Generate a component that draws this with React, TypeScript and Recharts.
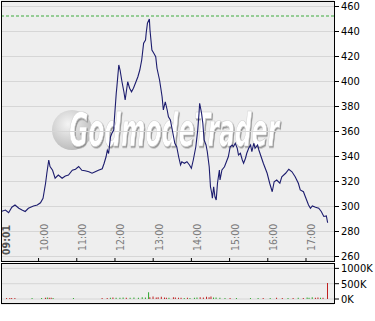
import React from "react";
import {
  LineChart,
  Line,
  XAxis,
  YAxis,
  CartesianGrid,
  ReferenceLine,
  BarChart,
  Bar,
  Cell,
} from "recharts";

// minutes after 09:00
const minutes = [
  1, 8, 13, 18, 23, 29, 34, 39, 44, 52, 58, 63, 67, 71, 73, 76, 78, 82, 86, 91,
  97, 102, 107, 113, 118, 123, 128, 133, 139, 144, 149, 154, 160, 163, 166, 168, 170, 173, 175, 178,
  179, 182, 183, 186, 188, 191, 194, 196, 200, 203, 206, 209, 213, 216, 219, 222, 225, 228, 229, 231,
  234, 235, 238, 241, 244, 246, 250, 252, 254, 256, 259, 262, 264, 267, 271, 274, 277, 280, 283, 285,
  289, 293, 297, 300, 303, 307, 310, 312, 313, 316, 318, 320, 323, 325, 328, 330, 332, 333, 335, 337,
  339, 341, 344, 345, 348, 352, 355, 358, 361, 364, 366, 369, 372, 374, 377, 380, 382, 385, 387, 390,
  393, 395, 398, 400, 404, 406, 413, 419, 423, 427, 430, 434, 439, 442, 448, 453, 458, 463, 468, 471,
  476, 479, 484, 487, 490, 495, 500, 504, 508, 512, 514,
];

const prices = [
  296, 297.2, 295, 299.4, 301.2, 298.6, 297.2, 296, 298.6, 300.4,
  301.2, 303, 306.5, 318.6, 326.6, 337.2, 332, 329, 322.6, 325.2,
  322.6, 324.4, 325.2, 329, 329.8, 332, 329, 328.6, 327.8, 326.6,
  327.8, 329, 330.2, 334.6, 339.8, 345, 342.4, 355.8, 358.4, 361.2,
  369.2, 390.6, 395.8, 413.2, 409.2, 399.8, 391.8, 385.2, 399.8, 394.6,
  391.8, 394.6, 399.8, 403.8, 409.2, 417.2, 430.6, 433.2, 438.6, 446.6,
  450, 441.2, 425.2, 422.6, 419.8, 410.6, 401.2, 394.6, 387.8, 377.2,
  383.8, 377.2, 371.8, 369.2, 358.6, 350.6, 347.8, 339.8, 333.2, 335.8,
  334.6, 335.8, 333.2, 330.6, 337.2, 347.8, 361.2, 374.6, 382.6, 374.6,
  366.6, 353.2, 349.2, 343.8, 331.8, 315.8, 310.6, 306.6, 315.8, 307.8,
  305.2, 318.6, 329.2, 321.2, 329.2, 331.8, 335.8, 339.8, 347.8, 349.2,
  347.8, 350.6, 346.6, 341.2, 342.6, 337.2, 334.6, 338.6, 342.6, 346.6,
  349.2, 343.8, 350.6, 346.6, 349.2, 345.2, 334.6, 326.6, 318.6, 311.8,
  319.8, 321.2, 318.6, 323.8, 326.6, 329.8, 327.8, 323.8, 318.6, 313.2,
  311.8, 307.8, 301.2, 298.6, 300.4, 299.4, 298.6, 296, 292, 292.4,
  287,
];

const xTickMinutes = [1, 60, 120, 180, 240, 300, 360, 420, 480];
const xTickLabels = ["09:01", "10:00", "11:00", "12:00", "13:00", "14:00", "15:00", "16:00", "17:00"];
const yTicks = [260, 280, 300, 320, 340, 360, 380, 400, 420, 440, 460];
const refLevel = 452.4;

const volMinutes = [
  10, 15, 18, 23, 50, 65, 71, 74, 77, 80, 83, 115, 160, 168, 173, 177, 182, 188, 193, 198,
  204, 210, 217, 223, 228, 233, 235, 240, 245, 248, 253, 258, 261, 265, 272, 275, 280, 284, 289, 294,
  298, 305, 309, 314, 319, 324, 328, 331, 335, 339, 345, 353, 361, 371, 393, 405, 413, 424, 434, 443,
  452, 460, 468, 476, 482, 485, 490, 495, 499, 503, 507, 514,
];
const volValues = [
  30000, 30000, 30000, 30000, 30000, 30000, 40000, 50000, 40000, 40000, 30000, 30000, 30000, 30000, 40000, 50000, 40000, 40000, 50000, 40000,
  40000, 50000, 40000, 60000, 50000, 220000, 60000, 80000, 50000, 60000, 70000, 50000, 40000, 40000, 60000, 50000, 40000, 40000, 30000, 40000,
  30000, 40000, 50000, 60000, 50000, 70000, 60000, 80000, 50000, 50000, 40000, 30000, 30000, 30000, 30000, 30000, 30000, 30000, 40000, 30000,
  30000, 30000, 40000, 30000, 50000, 40000, 60000, 40000, 50000, 40000, 40000, 520000,
];
const volUp = [
  0, 0, 0, 0, 1, 1, 0, 1, 0, 0, 1, 1, 0, 0, 1, 0, 1, 1, 1, 0,
  1, 1, 1, 1, 1, 1, 0, 0, 0, 0, 0, 0, 0, 1, 0, 0, 0, 0, 1, 0,
  1, 1, 1, 0, 0, 0, 0, 0, 1, 1, 1, 1, 0, 1, 1, 1, 0, 1, 0, 0,
  1, 0, 1, 0, 1, 1, 1, 0, 0, 1, 0, 0,
];
const volTicks = [0, 500000, 1000000];
const volTickLabels = ["0K", "500K", "1000K"];

const priceData = minutes.map((m, i) => ({ m, p: prices[i] }));
const volData = volMinutes.map((m, i) => ({ m, v: volValues[i], up: volUp[i] }));

const FONT = "'Liberation Sans Narrow', 'DejaVu Sans Condensed', 'Liberation Sans', sans-serif";

const XTick = (props: any) => {
  const { x, payload } = props;
  const idx = xTickMinutes.indexOf(payload.value);
  const label = xTickLabels[idx];
  if (idx === 0) {
    return (
      <text
        transform={`translate(${x + 9},255) rotate(-90)`}
        fontSize={10.5}
        fontWeight="bold"
        fill="#555"
        fontFamily={FONT}
        textAnchor="start"
      >
        {label}
      </text>
    );
  }
  return (
    <g>
      <line x1={x} x2={x} y1={258} y2={261} stroke="#000" strokeWidth={1} />
      <text
        transform={`translate(${x + 9.5},251) rotate(-90)`}
        fontSize={10.5}
        fill="#7a7a7a"
        fontFamily={FONT}
        textAnchor="start"
      >
        {label}
      </text>
    </g>
  );
};

const VolTick = (props: any) => {
  const { x, y, payload } = props;
  const idx = volTicks.indexOf(payload.value);
  return (
    <text x={x} y={y} dy={4} fontSize={11} fill="#000" fontFamily={FONT} textAnchor="start">
      {volTickLabels[idx]}
    </text>
  );
};

export default function App() {
  return (
    <div style={{ position: "absolute", left: 0, top: 0, width: 375, height: 321, background: "#fff", overflow: "hidden" }}>
      {/* plot background */}
      <div style={{ position: "absolute", left: 1, top: 1, width: 333, height: 260, background: "#eeeeee" }} />
      {/* watermark */}
      <svg width={335} height={262} style={{ position: "absolute", left: 0, top: 0 }}>
        <defs>
          <radialGradient id="sph" cx="40%" cy="35%" r="65%">
            <stop offset="0%" stopColor="#f4f4f4" />
            <stop offset="100%" stopColor="#bdbdbd" />
          </radialGradient>
          <filter id="wmshadow" x="-5%" y="-20%" width="115%" height="150%">
            <feDropShadow dx="1.5" dy="1.5" stdDeviation="0.6" floodColor="#8c8c8c" floodOpacity="0.9" />
          </filter>
        </defs>
        <circle cx={72} cy={130} r={20} fill="url(#sph)" />
        <g transform="translate(69,146) scale(0.7,1)">
          <text
            x={0}
            y={0}
            fontSize={46}
            fontWeight="bold"
            fontStyle="italic"
            fontFamily={FONT}
            textLength={300}
            lengthAdjust="spacingAndGlyphs"
            fill="#ffffff"
            stroke="#cfcfcf"
            strokeWidth={0.7}
            filter="url(#wmshadow)"
          >
            GodmodeTrader
          </text>
        </g>
      </svg>
      <div style={{ position: "absolute", left: 0, top: 0 }}>
        <LineChart width={375} height={262} data={priceData} margin={{ top: 1, right: 0, bottom: 0, left: 1 }}>
          <CartesianGrid horizontal vertical={false} stroke="#d6d6d6" fill="none" />
          <XAxis
            dataKey="m"
            type="number"
            domain={[1, 524]}
            ticks={xTickMinutes}
            interval={0}
            height={1}
            axisLine={false}
            tickLine={false}
            tick={<XTick />}
            allowDataOverflow
          />
          <YAxis
            orientation="right"
            width={41}
            domain={[256.4, 464.4]}
            ticks={yTicks}
            interval={0}
            axisLine={false}
            tickLine={{ stroke: "#000" }}
            tickSize={5}
            tickMargin={2}
            tick={{ fontSize: 11, fill: "#000", fontFamily: FONT }}
            allowDataOverflow
          />
          <ReferenceLine y={refLevel} stroke="#3daa3d" strokeDasharray="3 2" />
          <Line
            type="linear"
            dataKey="p"
            stroke="#1c1c6e"
            strokeWidth={1.1}
            dot={false}
            isAnimationActive={false}
          />
        </LineChart>
      </div>
      <div style={{ position: "absolute", left: 0, top: 263 }}>
        <BarChart width={375} height={47} data={volData} margin={{ top: 0, right: 0, bottom: 6, left: 1 }}>
          <CartesianGrid horizontal vertical={false} stroke="#d6d6d6" fill="#eeeeee" />
          <XAxis dataKey="m" type="number" domain={[1, 524]} hide allowDataOverflow />
          <YAxis
            orientation="right"
            width={41}
            domain={[-163000, 1176000]}
            ticks={volTicks}
            interval={0}
            axisLine={false}
            tickLine={{ stroke: "#000" }}
            tickSize={5}
            tickMargin={2}
            tick={<VolTick />}
            allowDataOverflow
          />
          <Bar dataKey="v" barSize={1} isAnimationActive={false}>
            {volData.map((d, i) => (
              <Cell key={i} fill={d.up ? "#2fa82f" : "#c02020"} />
            ))}
          </Bar>
        </BarChart>
      </div>
      {/* panel borders */}
      <div style={{ position: "absolute", left: 1, top: 1, width: 334, height: 261, border: "1px solid #000", boxSizing: "border-box", pointerEvents: "none" }} />
      <div style={{ position: "absolute", left: 1, top: 263, width: 334, height: 41, border: "1px solid #000", boxSizing: "border-box", pointerEvents: "none" }} />
    </div>
  );
}
